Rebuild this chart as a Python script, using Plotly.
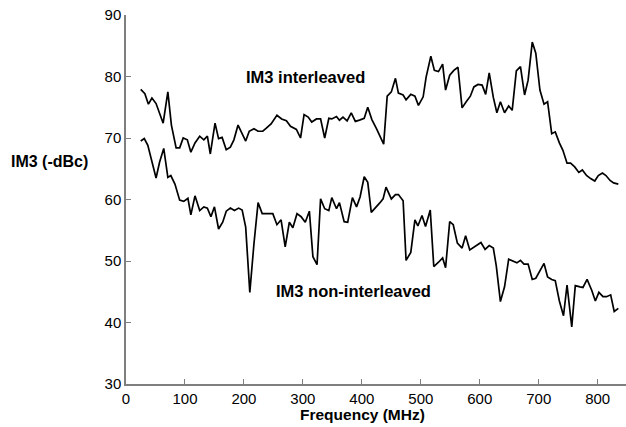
import plotly.graph_objects as go

freq_top = [25,32,38,44,51,63,71,77,85,91,97,104,110,117,125,132,138,143,151,157,163,170,177,183,190,196,203,209,217,224,232,238,246,256,264,272,279,289,296,302,309,315,323,330,337,344,349,357,362,368,375,382,389,396,404,410,417,425,430,437,443,450,457,462,470,475,483,490,496,504,509,517,523,530,537,542,549,556,563,570,577,584,590,597,604,610,616,623,629,635,642,649,655,662,669,676,682,689,695,702,709,715,722,728,735,741,748,754,761,768,774,781,788,795,801,808,814,821,827,835]
im3_interleaved = [77.9,77.2,75.5,76.5,75.6,72.4,77.5,72.1,68.4,68.4,70,69.7,67.7,69.2,70.3,69.7,70.3,67.4,72.4,69.9,70.1,68.1,68.5,69.7,72.1,71,69.5,71.1,71.5,71.1,71.1,71.6,72.3,73.7,73.1,72.8,71.9,71.4,70,73.8,73.4,72.6,73.1,73.1,70,73.2,73.1,73.5,72.9,73.4,72.8,74.1,72.7,72.9,73.2,75,73,71.5,70.4,69,76.8,77.5,79.7,77.3,77,76.2,77.1,76.8,75.3,76.7,79.9,83.3,81,80.8,82,77.8,80.2,81,81.5,74.9,75.9,76.8,78.3,78.7,78.6,77.1,80.6,76.6,74.1,75.9,74.1,75.2,74.5,80.9,81.6,77,79.4,85.6,83.8,77.8,75.5,75.9,70.7,71,69.2,68,65.9,65.9,65.3,64.4,64.8,63.9,63.4,63,63.9,64.3,63.9,63.1,62.7,62.5]

freq_bot = [25,31,37,44,51,57,64,71,76,83,91,98,105,110,117,125,132,138,144,150,157,164,170,177,184,191,197,203,210,217,224,231,239,249,256,263,270,277,283,290,297,304,311,317,324,330,337,344,349,357,362,370,376,384,391,397,404,410,416,423,430,436,441,450,457,462,470,475,483,490,495,502,508,516,522,530,537,542,549,555,562,570,576,583,591,602,609,616,623,628,635,642,649,657,663,669,675,682,689,695,702,709,715,722,728,735,742,748,756,762,770,775,782,790,796,802,809,815,822,828,835]
im3_non_interleaved = [69.5,69.9,68.8,66.3,63.5,66.1,68.3,63.6,63.9,62.5,59.9,59.7,60.2,57.5,60.6,58.2,58.8,58.6,57.2,58.8,55.2,56.3,58.1,58.6,58.2,58.6,58.3,55.5,44.9,52.8,59.5,57.7,57.7,57.7,55.9,56.7,52.3,56.3,55.4,57.7,57.2,56.3,58.1,50.7,49.4,60.1,58.5,58.2,60.3,58.5,59.5,56.4,56.3,60.3,58.8,60.4,63.7,62.8,57.9,58.6,59.4,60.1,62,60.1,60.8,60.8,59.8,50.1,51.4,56.7,55.7,57.4,55.6,58.3,49.1,49.8,50.5,48.9,56.4,55.9,52.9,52.1,54.1,51.8,52.3,53,51.9,52.5,52.1,49.2,43.4,45.8,50.3,49.9,49.7,50.1,49.5,49.5,47,47.2,48.4,49.6,47.4,47,46.8,43.5,41.1,46.1,39.3,46,45.8,45.7,47,45.2,43.5,44.9,44.2,44.2,44.5,41.8,42.3]

x_ticks = [0,100,200,300,400,500,600,700,800]
y_ticks = [30,40,50,60,70,80,90]

FONT = "Arial, Liberation Sans, sans-serif"

W, H = 626, 427
L, R, T, B = 126, 0, 15, 43
PW, PH = W - L - R, H - T - B

fig = go.Figure()
fig.add_trace(go.Scatter(x=freq_top, y=im3_interleaved, mode="lines",
                         line=dict(color="black", width=1.7), showlegend=False))
fig.add_trace(go.Scatter(x=freq_bot, y=im3_non_interleaved, mode="lines",
                         line=dict(color="black", width=1.7), showlegend=False))

axis_common = dict(showgrid=False, zeroline=False, showline=True,
                   linecolor="#7f7f7f", linewidth=1.5,
                   ticks="inside", ticklen=5, tickcolor="#7f7f7f", tickwidth=1,
                   tickfont=dict(family=FONT, size=15, color="black"))

fig.update_xaxes(range=[0, 848], tickvals=x_ticks, **axis_common)
fig.update_yaxes(range=[30, 90], tickvals=y_ticks, **axis_common)

fig.add_annotation(x=304, y=80.0, text="<b>IM3 interleaved</b>", showarrow=False,
                   font=dict(family=FONT, size=16.5, color="black"))
fig.add_annotation(x=385, y=45.1, text="<b>IM3 non-interleaved</b>", showarrow=False,
                   font=dict(family=FONT, size=16.5, color="black"))
fig.add_annotation(xref="paper", yref="paper", x=(362 - L) / PW, y=-(415 - (H - B)) / PH,
                   text="<b>Frequency (MHz)</b>", showarrow=False,
                   xanchor="center", yanchor="middle",
                   font=dict(family=FONT, size=15.5, color="black"))
fig.add_annotation(xref="paper", yref="paper", x=-(L - 49) / PW, y=((H - B) - 162) / PH,
                   text="<b>IM3 (-dBc)</b>", showarrow=False,
                   xanchor="center", yanchor="middle",
                   font=dict(family=FONT, size=16, color="black"))

fig.update_layout(width=W, height=H,
                  margin=dict(l=L, r=R, t=T, b=B, pad=0),
                  plot_bgcolor="white", paper_bgcolor="white",
                  font=dict(family=FONT, size=15, color="black"))

fig.write_html("out.html", config={"displayModeBar": False},
               post_script="document.body.style.margin='0';document.body.style.overflow='hidden';")
